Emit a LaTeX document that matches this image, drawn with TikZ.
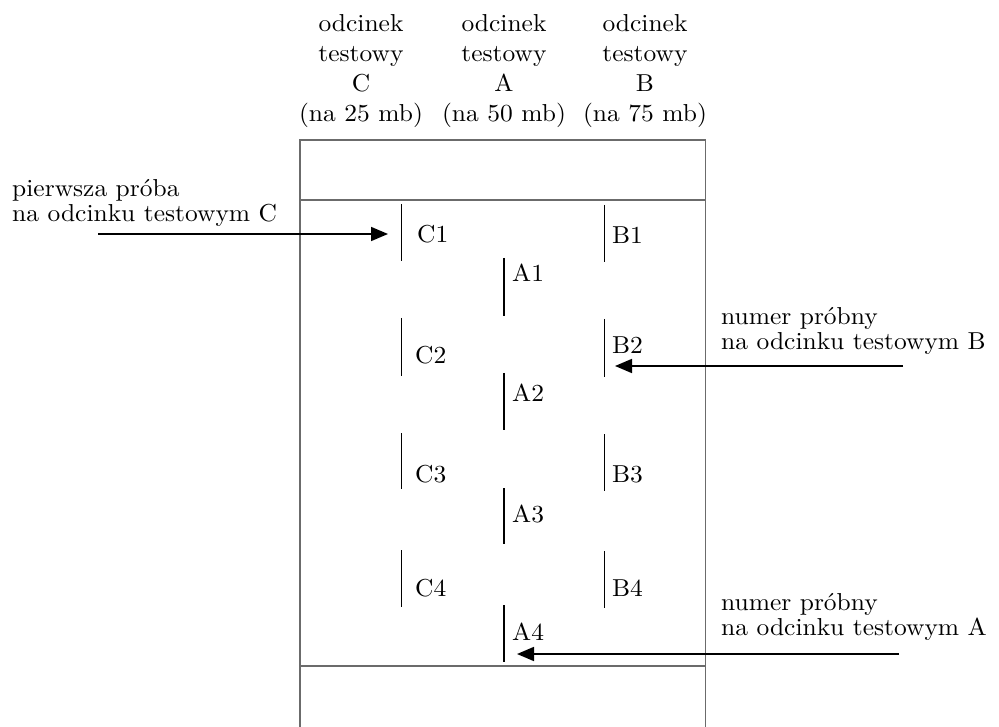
\documentclass[tikz,border=0pt]{standalone}
\usepackage{fontspec}
\setmainfont{lmroman10-regular}[Extension=.otf, FakeStretch=1.04]
\usetikzlibrary{arrows.meta}
\tikzset{
  frame/.style={draw=black!58, line width=1.9pt},
  tickline/.style={draw=black, line width=1.8pt},
  pointer/.style={draw=black, line width=1.7pt, -{Triangle[length=17pt,width=14pt]}},
  colhead/.style={anchor=base, inner sep=0pt, align=center,
    font=\fontsize{24.5}{30}\selectfont},
  sidenote/.style={anchor=base west, inner sep=0pt, align=left,
    font=\fontsize{24.5}{25}\selectfont},
  ptlabel/.style={anchor=base west, inner sep=0pt, font=\fontsize{24.5}{25}\selectfont}
}
\begin{document}
\begin{tikzpicture}[x=1pt, y=-1pt]
\useasboundingbox (0,0) rectangle (999,727);

% column headings (anchored on the last line)
\node[colhead] (hc) at (361,122) {odcinek\\testowy\\C\\(na 25 mb)};
\node[colhead] (ha) at (504,122) {odcinek\\testowy\\A\\(na 50 mb)};
\node[colhead] (hb) at (645,122) {odcinek\\testowy\\B\\(na 75 mb)};

% test strip
\draw[frame] (300,727) -- (300,140) -- (705.5,140) -- (705.5,727);
\draw[frame] (300,200) -- (705.5,200);
\draw[frame] (300,666) -- (705.5,666);

% sampling points, column C
\draw[tickline] (401.5,204) -- (401.5,261);
\draw[tickline] (401.5,318) -- (401.5,376);
\draw[tickline] (401.5,433) -- (401.5,489);
\draw[tickline] (401.5,550) -- (401.5,607);
% column A
\draw[tickline] (504,258) -- (504,316);
\draw[tickline] (504,373) -- (504,430);
\draw[tickline] (504,488) -- (504,544);
\draw[tickline] (504,605) -- (504,662);
% column B
\draw[tickline] (604.5,205) -- (604.5,262);
\draw[tickline] (604.5,319) -- (604.5,377);
\draw[tickline] (604.5,434) -- (604.5,491);
\draw[tickline] (604.5,551) -- (604.5,608);

% point labels
\node[ptlabel] (c1) at (417,243) {C1};
\node[ptlabel] (c2) at (415,363) {C2};
\node[ptlabel] (c3) at (415,482) {C3};
\node[ptlabel] (c4) at (415,596) {C4};
\node[ptlabel] (a1) at (512,282) {A1};
\node[ptlabel] (a2) at (512,401) {A2};
\node[ptlabel] (a3) at (512,522) {A3};
\node[ptlabel] (a4) at (512,640) {A4};
\node[ptlabel] (b1) at (612,244) {B1};
\node[ptlabel] (b2) at (612,354) {B2};
\node[ptlabel] (b3) at (612,482) {B3};
\node[ptlabel] (b4) at (612,596) {B4};

% explanatory notes (anchored on the last line)
\node[sidenote] (nc) at (12,222) {pierwsza próba\\na odcinku testowym C};
\node[sidenote] (nb) at (721,350) {numer próbny\\na odcinku testowym B};
\node[sidenote] (na) at (721,635) {numer próbny\\na odcinku testowym A};

% pointers
\coordinate (pc0) at (98,234);
\coordinate (pc1) at (388,234);
\coordinate (pb0) at (903,366);
\coordinate (pb1) at (615,366);
\coordinate (pa0) at (899,654);
\coordinate (pa1) at (517,654);
\draw[pointer] (pc0) -- (pc1);
\draw[pointer] (pb0) -- (pb1);
\draw[pointer] (pa0) -- (pa1);
\end{tikzpicture}
\end{document}
